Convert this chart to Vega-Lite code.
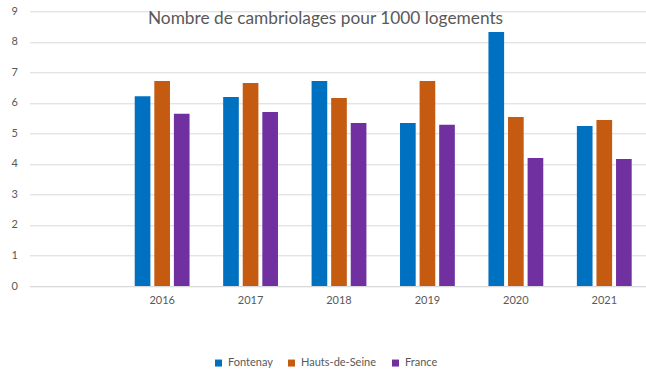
{
  "$schema": "https://vega.github.io/schema/vega-lite/v6.json",
  "width": 619,
  "height": 274.7,
  "autosize": "none",
  "padding": {"left": 29.5, "top": 11.3, "right": 0, "bottom": 94},
  "background": "white",
  "title": {
    "text": "Nombre de cambriolages pour 1000 logements",
    "font": "Lato",
    "fontSize": 17.3,
    "fontWeight": "normal",
    "color": "#595959",
    "anchor": "middle",
    "dx": -13.5,
    "baseline": "alphabetic",
    "offset": -36
  },
  "data": {
    "values": [
      {"annee": "2016", "zone": "Fontenay", "valeur": 6.22},
      {"annee": "2016", "zone": "Hauts-de-Seine", "valeur": 6.72},
      {"annee": "2016", "zone": "France", "valeur": 5.64},
      {"annee": "2017", "zone": "Fontenay", "valeur": 6.19},
      {"annee": "2017", "zone": "Hauts-de-Seine", "valeur": 6.65},
      {"annee": "2017", "zone": "France", "valeur": 5.70},
      {"annee": "2018", "zone": "Fontenay", "valeur": 6.72},
      {"annee": "2018", "zone": "Hauts-de-Seine", "valeur": 6.16},
      {"annee": "2018", "zone": "France", "valeur": 5.34},
      {"annee": "2019", "zone": "Fontenay", "valeur": 5.34},
      {"annee": "2019", "zone": "Hauts-de-Seine", "valeur": 6.72},
      {"annee": "2019", "zone": "France", "valeur": 5.28},
      {"annee": "2020", "zone": "Fontenay", "valeur": 8.32},
      {"annee": "2020", "zone": "Hauts-de-Seine", "valeur": 5.54},
      {"annee": "2020", "zone": "France", "valeur": 4.19},
      {"annee": "2021", "zone": "Fontenay", "valeur": 5.24},
      {"annee": "2021", "zone": "Hauts-de-Seine", "valeur": 5.44},
      {"annee": "2021", "zone": "France", "valeur": 4.16}
    ]
  },
  "mark": {"type": "bar"},
  "encoding": {
    "x": {
      "field": "annee",
      "type": "nominal",
      "scale": {"domain": [" ", "2016", "2017", "2018", "2019", "2020", "2021"], "paddingInner": 0.38, "paddingOuter": 0.19},
      "axis": {
        "title": null,
        "labelAngle": 0,
        "ticks": false,
        "domain": true,
        "domainColor": "#d9d9d9",
        "labelFont": "Lato",
        "labelFontSize": 11,
        "labelColor": "#595959",
        "labelPadding": 8
      }
    },
    "xOffset": {
      "field": "zone",
      "type": "nominal",
      "scale": {"domain": ["Fontenay", "Hauts-de-Seine", "France"], "paddingInner": 0.2, "paddingOuter": 0}
    },
    "y": {
      "field": "valeur",
      "type": "quantitative",
      "scale": {"domain": [0, 9], "nice": false},
      "axis": {
        "title": null,
        "values": [0, 1, 2, 3, 4, 5, 6, 7, 8, 9],
        "labelOverlap": false,
        "labelFlush": false,
        "labelBound": false,
        "ticks": false,
        "domain": false,
        "gridColor": "#d9d9d9",
        "labelFont": "Lato",
        "labelFontSize": 11,
        "labelColor": "#595959",
        "labelPadding": 12
      }
    },
    "color": {
      "field": "zone",
      "type": "nominal",
      "scale": {"domain": ["Fontenay", "Hauts-de-Seine", "France"], "range": ["#0070C0", "#C55A11", "#7030A0"]},
      "legend": {
        "title": null,
        "orient": "none",
        "legendX": 183.5,
        "legendY": 346,
        "direction": "horizontal",
        "symbolType": "square",
        "symbolSize": 49,
        "symbolStrokeWidth": 0,
        "labelFont": "Lato",
        "labelFontSize": 11,
        "labelColor": "#595959",
        "columnPadding": 13
      }
    }
  },
  "config": {"view": {"stroke": null}}
}
